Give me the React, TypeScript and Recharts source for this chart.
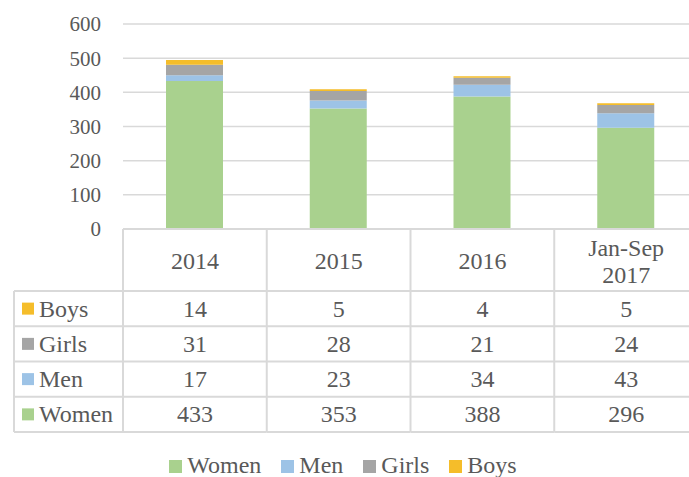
import React from 'react';
import { BarChart, Bar, XAxis, YAxis, CartesianGrid, Legend } from 'recharts';

const categories = ['2014', '2015', '2016', 'Jan-Sep 2017'];
const women = [433, 353, 388, 296];
const men = [17, 23, 34, 43];
const girls = [31, 28, 21, 24];
const boys = [14, 5, 4, 5];
const yTicks = [0, 100, 200, 300, 400, 500, 600];

const seriesNames = ['Women', 'Men', 'Girls', 'Boys'];
const seriesColors: Record<string, string> = {
  Women: '#A9D18E',
  Men: '#9DC3E6',
  Girls: '#A5A5A5',
  Boys: '#F5BD2A',
};
const seriesValues: Record<string, number[]> = { Women: women, Men: men, Girls: girls, Boys: boys };
const tableRows = ['Boys', 'Girls', 'Men', 'Women'];

const data = categories.map((c, i) => ({
  name: c,
  Women: women[i],
  Men: men[i],
  Girls: girls[i],
  Boys: boys[i],
}));

const CHART_W = 720;
const CHART_H = 477;
const MARGIN = { top: 24, right: 22, left: 0, bottom: 0 };
const Y_W = 123;
const BAND = (CHART_W - MARGIN.left - MARGIN.right - Y_W) / categories.length;
const HEADER_H = 62;
const ROW_H = 35.25;
const LABEL_COL_W = 109;
const FONT = 'Liberation Serif, Tinos, Times New Roman, DejaVu Serif, serif';
const TEXT = '#595959';
const LINE = '#D9D9D9';

const TableTick = (props: any) => {
  const { x, y, payload, index } = props;
  const left = x - BAND / 2;
  const right = x + BAND / 2;
  const bottom = y + HEADER_H + ROW_H * tableRows.length;
  const lines = String(payload.value).split(' ');
  const els: React.ReactNode[] = [];
  els.push(<line key="lv" x1={left} x2={left} y1={y} y2={bottom} stroke={LINE} strokeWidth={2} />);
  if (index === categories.length - 1) {
    els.push(<line key="rv" x1={right} x2={right} y1={y} y2={bottom} stroke={LINE} strokeWidth={2} />);
  }
  tableRows.forEach((_, r) => {
    const ly = y + HEADER_H + r * ROW_H;
    els.push(<line key={'h' + r} x1={left} x2={right} y1={ly} y2={ly} stroke={LINE} strokeWidth={2} />);
  });
  els.push(<line key="hb" x1={left} x2={right} y1={bottom} y2={bottom} stroke={LINE} strokeWidth={2} />);
  const hc = y + HEADER_H / 2 + 1;
  const lh = 27;
  lines.forEach((ln, i) => {
    const ty = hc + (i - (lines.length - 1) / 2) * lh;
    els.push(
      <text key={'t' + i} x={x} y={ty} textAnchor="middle" dominantBaseline="central" style={{ fontSize: 24, fontFamily: FONT }} fill={TEXT}>
        {ln}
      </text>
    );
  });
  tableRows.forEach((s, r) => {
    const cy = y + HEADER_H + r * ROW_H + ROW_H / 2;
    els.push(
      <text key={'v' + r} x={x} y={cy} textAnchor="middle" dominantBaseline="central" style={{ fontSize: 24, fontFamily: FONT }} fill={TEXT}>
        {seriesValues[s][index]}
      </text>
    );
  });
  if (index === 0) {
    const l0 = left - LABEL_COL_W;
    const top = y + HEADER_H;
    els.push(<line key="ll" x1={l0} x2={l0} y1={top} y2={bottom} stroke={LINE} strokeWidth={2} />);
    tableRows.forEach((s, r) => {
      const ly = top + r * ROW_H;
      const cy = ly + ROW_H / 2;
      els.push(<line key={'lh' + r} x1={l0} x2={left} y1={ly} y2={ly} stroke={LINE} strokeWidth={2} />);
      els.push(<rect key={'lk' + r} x={l0 + 8} y={cy - 6} width={12} height={12} fill={seriesColors[s]} />);
      els.push(
        <text key={'lt' + r} x={l0 + 25} y={cy} textAnchor="start" dominantBaseline="central" style={{ fontSize: 24, fontFamily: FONT }} fill={TEXT}>
          {s}
        </text>
      );
    });
    els.push(<line key="lb" x1={l0} x2={left} y1={bottom} y2={bottom} stroke={LINE} strokeWidth={2} />);
  }
  return <g>{els}</g>;
};

const LegendContent = () => (
  <div
    style={{
      height: 30,
      display: 'flex',
      justifyContent: 'center',
      alignItems: 'flex-start',
      paddingTop: 6,
      paddingLeft: 8,
      boxSizing: 'border-box',
      fontFamily: FONT,
      fontSize: 24,
      color: TEXT,
      lineHeight: '24px',
      whiteSpace: 'nowrap',
    }}
  >
    {seriesNames.map((s) => (
      <div key={s} style={{ display: 'flex', alignItems: 'center', marginRight: 20 }}>
        <div style={{ width: 13, height: 13, background: seriesColors[s], marginRight: 5, marginTop: 2 }} />
        <span>{s}</span>
      </div>
    ))}
  </div>
);

export default function App() {
  return (
    <div style={{ position: 'fixed', left: 0, top: 0, width: 689, height: 477, overflow: 'hidden', background: '#fff', fontFamily: FONT }}>
      <BarChart width={CHART_W} height={CHART_H} data={data} margin={MARGIN} style={{ fontFamily: FONT }}>
        <CartesianGrid vertical={false} stroke={LINE} strokeWidth={1.5} />
        <XAxis
          dataKey="name"
          height={CHART_H - 30 - 229}
          tickSize={0}
          tickMargin={0}
          tickLine={false}
          axisLine={{ stroke: LINE, strokeWidth: 2 }}
          tick={<TableTick />}
          interval={0}
        />
        <YAxis
          width={Y_W}
          domain={[0, 600]}
          ticks={yTicks}
          axisLine={false}
          tickLine={false}
          tickSize={0}
          tickMargin={22}
          tick={{ fontSize: 21, fontFamily: FONT, fill: TEXT }}
        />
        <Legend verticalAlign="bottom" content={<LegendContent />} />
        {seriesNames.map((s) => (
          <Bar key={s} dataKey={s} stackId="a" fill={seriesColors[s]} barSize={57} isAnimationActive={false} />
        ))}
      </BarChart>
    </div>
  );
}
